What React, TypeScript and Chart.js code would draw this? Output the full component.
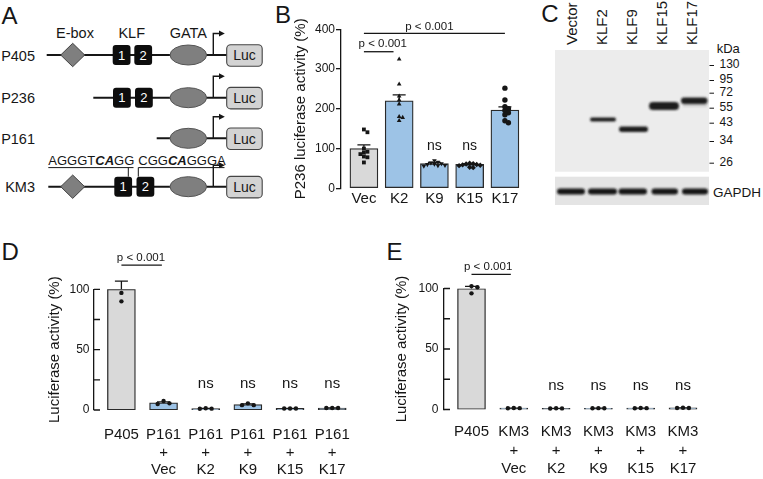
import React, { useEffect, useRef } from 'react';
import { Chart, registerables } from 'chart.js';
Chart.register(...registerables);

const FONT = "'Liberation Sans', Arial, Helvetica, sans-serif";
const INK = '#161616';
const GRAY = '#d9d9d9';
const BLUE = '#9dc3e6';

// ---------- Panel B data ----------
const bLabels = ['Vec', 'K2', 'K9', 'K15', 'K17'];
const bMeans = [100, 220, 62, 60, 197];
const bSem = [9, 15, 3, 2, 8];
const bVec = [148, 141, 100, 92, 90, 86, 80, 78, 65];
const bK2 = [325, 262, 232, 222, 212, 180, 178, 170];
const bK9 = [70, 66, 64, 62, 61, 60, 58, 57, 56];
const bK15 = [63, 62, 61, 60, 59, 58, 57, 53, 52];
const bK17 = [252, 222, 205, 200, 196, 190, 185, 170, 165];
const bTicks = [0, 100, 200, 300, 400];

// ---------- Panel D data ----------
const dLabels = [['P405'], ['P161', '+', 'Vec'], ['P161', '+', 'K2'], ['P161', '+', 'K9'], ['P161', '+', 'K15'], ['P161', '+', 'K17']];
const dMeans = [100, 6, 1.2, 4.5, 1.3, 1.6];
const dSem = [6.8, 0.8, 0.2, 0.5, 0.1, 0.1];
const dP405 = [113, 97, 90];
const dVec = [7.5, 5, 5.5];
const dK2 = [1.5, 1, 1.1];
const dK9 = [5.5, 4, 4];
const dK15 = [1.3, 1.3, 1.3];
const dK17 = [1.6, 1.6, 1.7];

// ---------- Panel E data ----------
const eLabels = [['P405'], ['KM3', '+', 'Vec'], ['KM3', '+', 'K2'], ['KM3', '+', 'K9'], ['KM3', '+', 'K15'], ['KM3', '+', 'K17']];
const eMeans = [100, 1.1, 0.9, 1.0, 1.1, 1.3];
const eSem = [1.8, 0.1, 0.1, 0.1, 0.1, 0.1];
const eP405 = [102, 101, 96];
const eVec = [1.2, 1.1, 1.0];
const eK2 = [0.9, 0.8, 1.0];
const eK9 = [1.0, 1.0, 1.1];
const eK15 = [1.1, 1.0, 1.2];
const eK17 = [1.3, 1.2, 1.4];
const pctTicks = [0, 25, 50, 75, 100];

// ---------- Panel C (blot) ----------
const lanes = ['Vector', 'KLF2', 'KLF9', 'KLF15', 'KLF17'];
const markers = ['130', '95', '72', '55', '43', '34', '26'];

function swarm(values: number[], thr: number, step: number): number[] {
  const order = values.map((_, i) => i).sort((a, b) => values[b] - values[a]);
  const placed: { v: number; x: number }[] = [];
  const out = values.map(() => 0);
  for (const i of order) {
    const v = values[i];
    for (let k = 0; k < 40; k++) {
      const off = k === 0 ? 0 : (k % 2 ? 1 : -1) * Math.ceil(k / 2) * step;
      if (!placed.some((p) => Math.abs(p.v - v) < thr && Math.abs(p.x - off) < step * 0.95)) {
        out[i] = off;
        placed.push({ v, x: off });
        break;
      }
    }
  }
  return out;
}

interface Sig { x0: number; x1: number; y: number; text: string; dx: number; gap: number }
interface Spec {
  labels: (string | string[])[];
  means: number[]; sem: number[]; points: number[][]; colors: string[];
  styles: string[]; rots: number[]; radius: number;
  ticks: number[]; labelEvery: number; yTitle: string;
  xMin: number; xMax: number; spacing: number;
  canvasW: number; yAxisW: number; padTop: number; xAxisH: number;
  titlePad: number; tickPad: number; outerTicks: boolean;
  xTickPad: number; xLineHeight: number; xFont: number;
  sigs: Sig[]; ns: number[]; nsY: number; nsFont: number; sigFont: number;
  thr: number; step: number; capW: number;
}

function makeOverlay(s: Spec) {
  return {
    id: 'overlay',
    afterDatasetsDraw(chart: any) {
      const { ctx, chartArea } = chart;
      const xs = chart.scales.x;
      const ys = chart.scales.y;
      ctx.save();
      ctx.strokeStyle = INK;
      ctx.lineWidth = 1.3;
      s.means.forEach((m, i) => {
        const x = xs.getPixelForValue(i);
        const y0 = ys.getPixelForValue(m);
        const y1 = ys.getPixelForValue(m + s.sem[i]);
        ctx.beginPath();
        ctx.moveTo(x, y0);
        ctx.lineTo(x, y1);
        ctx.moveTo(x - s.capW / 2, y1);
        ctx.lineTo(x + s.capW / 2, y1);
        ctx.stroke();
      });
      if (!s.outerTicks) {
        ctx.beginPath();
        ys.ticks.forEach((t: any) => {
          const y = ys.getPixelForValue(t.value);
          ctx.moveTo(chartArea.left, y);
          ctx.lineTo(chartArea.left + 6, y);
        });
        ctx.stroke();
      }
      ctx.fillStyle = INK;
      ctx.textAlign = 'center';
      ctx.textBaseline = 'alphabetic';
      ctx.font = `${s.sigFont}px ${FONT}`;
      s.sigs.forEach((g) => {
        const xa = xs.getPixelForValue(g.x0);
        const xb = xs.getPixelForValue(g.x1);
        const y = ys.getPixelForValue(g.y);
        ctx.beginPath();
        ctx.moveTo(xa, y);
        ctx.lineTo(xb, y);
        ctx.stroke();
        ctx.fillText(g.text, (xa + xb) / 2 + g.dx, y - g.gap);
      });
      ctx.font = `${s.nsFont}px ${FONT}`;
      s.ns.forEach((i) => ctx.fillText('ns', xs.getPixelForValue(i), ys.getPixelForValue(s.nsY)));
      ctx.restore();
    },
  };
}

function makeChart(canvas: HTMLCanvasElement, s: Spec) {
  const datasets: any[] = [
    {
      type: 'bar',
      data: s.means.map((m, i) => ({ x: i, y: m })),
      backgroundColor: s.colors,
      borderColor: '#2a2a2a',
      borderWidth: 1.3,
      borderSkipped: false,
      barThickness: 28,
      order: 3,
    },
  ];
  s.points.forEach((vals, i) => {
    const offs = swarm(vals, s.thr, s.step);
    datasets.push({
      type: 'scatter',
      data: vals.map((v, k) => ({ x: i + offs[k], y: v })),
      pointStyle: s.styles[i],
      pointRotation: s.rots[i],
      pointRadius: s.radius,
      backgroundColor: INK,
      borderColor: INK,
      borderWidth: 0,
      clip: false,
      order: 1,
    });
  });
  const padRight = s.canvasW - s.yAxisW - (s.xMax - s.xMin) * s.spacing;
  return new Chart(canvas, {
    type: 'bar',
    data: { datasets },
    plugins: [makeOverlay(s)],
    options: {
      responsive: false,
      animation: false,
      events: [],
      layout: { padding: { top: s.padTop, right: padRight, left: 0, bottom: 0 } },
      plugins: { legend: { display: false }, tooltip: { enabled: false } },
      scales: {
        x: {
          type: 'linear',
          min: s.xMin,
          max: s.xMax,
          offset: false,
          afterBuildTicks: (sc: any) => {
            sc.ticks = s.labels.map((_, i) => ({ value: i }));
          },
          afterFit: (sc: any) => {
            sc.height = s.xAxisH;
          },
          grid: { display: false, drawTicks: false },
          border: { display: false },
          ticks: {
            autoSkip: false,
            maxRotation: 0,
            padding: s.xTickPad,
            color: INK,
            font: { size: s.xFont, lineHeight: s.xLineHeight },
            callback: (v: any) => s.labels[v as number],
          },
        },
        y: {
          type: 'linear',
          min: s.ticks[0],
          max: s.ticks[s.ticks.length - 1],
          afterBuildTicks: (sc: any) => {
            sc.ticks = s.ticks.map((v) => ({ value: v }));
          },
          afterFit: (sc: any) => {
            sc.width = s.yAxisW;
          },
          grid: {
            display: s.outerTicks,
            drawOnChartArea: false,
            drawTicks: s.outerTicks,
            tickLength: 5,
            color: INK,
            lineWidth: 1.3,
          },
          border: { display: true, color: INK, width: 1.3 },
          ticks: {
            autoSkip: false,
            padding: s.tickPad,
            color: INK,
            font: { size: 12 },
            callback: (v: any) => ((v as number) % s.labelEvery === 0 ? String(v) : ''),
          },
          title: {
            display: true,
            text: s.yTitle,
            color: INK,
            font: { size: 15, lineHeight: 1.2 },
            padding: { top: s.titlePad, bottom: 0 },
          },
        },
      },
    } as any,
  });
}

const specB: Spec = {
  labels: bLabels, means: bMeans, sem: bSem,
  points: [bVec, bK2, bK9, bK15, bK17],
  colors: [GRAY, BLUE, BLUE, BLUE, BLUE],
  styles: ['rect', 'triangle', 'triangle', 'rectRot', 'circle'],
  rots: [0, 0, 180, 0, 0], radius: 2.7,
  ticks: bTicks, labelEvery: 100, yTitle: 'P236 luciferase activity (%)',
  xMin: -0.65, xMax: 4.55, spacing: 35.25,
  canvasW: 245, yAxisW: 56, padTop: 29.3, xAxisH: 26.7,
  titlePad: 7, tickPad: 1, outerTicks: true,
  xTickPad: 1.7, xLineHeight: 1.2, xFont: 15,
  sigs: [
    { x0: 0, x1: 4, y: 390, text: 'p < 0.001', dx: -5, gap: 3.5 },
    { x0: 0, x1: 0.84, y: 343.6, text: 'p < 0.001', dx: 4, gap: 5 },
  ],
  ns: [2, 3], nsY: 96, nsFont: 14, sigFont: 11.5,
  thr: 9, step: 0.1, capW: 13,
};

const specD: Spec = {
  labels: dLabels, means: dMeans, sem: dSem,
  points: [dP405, dVec, dK2, dK9, dK15, dK17],
  colors: [GRAY, BLUE, BLUE, BLUE, BLUE, BLUE],
  styles: ['circle', 'circle', 'circle', 'circle', 'circle', 'circle'],
  rots: [0, 0, 0, 0, 0, 0], radius: 2.2,
  ticks: pctTicks, labelEvery: 50, yTitle: 'Luciferase activity (%)',
  xMin: -0.65, xMax: 5.5, spacing: 42.16,
  canvasW: 355, yAxisW: 64, padTop: 49.3, xAxisH: 69,
  titlePad: 16, tickPad: 4.5, outerTicks: false,
  xTickPad: 16.2, xLineHeight: 1.167, xFont: 15,
  sigs: [{ x0: 0, x1: 0.96, y: 120, text: 'p < 0.001', dx: -0.7, gap: 4.5 }],
  ns: [2, 3, 4, 5], nsY: 18.2, nsFont: 15, sigFont: 11.5,
  thr: 3.5, step: 0.14, capW: 13,
};

const specE: Spec = {
  labels: eLabels, means: eMeans, sem: eSem,
  points: [eP405, eVec, eK2, eK9, eK15, eK17],
  colors: [GRAY, BLUE, BLUE, BLUE, BLUE, BLUE],
  styles: ['circle', 'circle', 'circle', 'circle', 'circle', 'circle'],
  rots: [0, 0, 0, 0, 0, 0], radius: 2.2,
  ticks: pctTicks, labelEvery: 50, yTitle: 'Luciferase activity (%)',
  xMin: -0.65, xMax: 5.5, spacing: 42.3,
  canvasW: 378, yAxisW: 59, padTop: 48.5, xAxisH: 69.5,
  titlePad: 7.5, tickPad: 5.5, outerTicks: false,
  xTickPad: 12.8, xLineHeight: 1.25, xFont: 15,
  sigs: [{ x0: 0, x1: 0.93, y: 111.7, text: 'p < 0.001', dx: -3, gap: 4 }],
  ns: [2, 3, 4, 5], nsY: 16, nsFont: 15, sigFont: 11.5,
  thr: 3.5, step: 0.14, capW: 13,
};

// ---------- schematic (panel A) ----------
const rowsA = [
  { label: 'P405', y: 55, start: 46.7, ebox: true, klf: [112.7, 134.3] },
  { label: 'P236', y: 97.7, start: 93.3, ebox: false, klf: [113, 135] },
  { label: 'P161', y: 138.3, start: 156.7, ebox: false, klf: [] as number[] },
  { label: 'KM3', y: 186.7, start: 48.3, ebox: true, klf: [114.3, 136.5] },
];

function PanelA() {
  return (
    <g>
      <text x={1.5} y={23.5} fontSize={24}>A</text>
      <text x={75} y={38.3} fontSize={14.5} textAnchor="middle">E-box</text>
      <text x={131.7} y={38.3} fontSize={14.5} textAnchor="middle">KLF</text>
      <text x={188.3} y={38.3} fontSize={14.5} textAnchor="middle">GATA</text>
      {rowsA.map((r) => (
        <g key={r.label}>
          <text x={35} y={r.y + 5.5} fontSize={14.5} textAnchor="end">{r.label}</text>
          <line x1={r.start} y1={r.y} x2={227} y2={r.y} stroke={INK} strokeWidth={2} />
          {r.ebox && (
            <polygon
              points={`${60.7},${r.y} ${72.7},${r.y - 11.7} ${84.7},${r.y} ${72.7},${r.y + 11.7}`}
              fill="#7f7f7f" stroke="#444" strokeWidth={1}
            />
          )}
          {r.klf.map((bx, k) => (
            <g key={k}>
              <rect x={bx} y={r.y - 10} width={17.8} height={20} rx={3} fill="#0d0d0d" />
              <text x={bx + 8.9} y={r.y + 4.7} fontSize={13} fill="#fff" textAnchor="middle">{k + 1}</text>
            </g>
          ))}
          <ellipse cx={188.3} cy={r.y} rx={18.3} ry={10} fill="#7f7f7f" stroke="#555" strokeWidth={1} />
          <polyline points={`213.3,${r.y} 213.3,${r.y - 21.5} 220,${r.y - 21.5}`} fill="none" stroke={INK} strokeWidth={1.4} />
          <polygon points={`219,${r.y - 24.5} 224.8,${r.y - 21.5} 219,${r.y - 18.5}`} fill={INK} />
          <rect x={226.7} y={r.y - 10.3} width={35.5} height={21.5} rx={4} fill="#d3d3d3" stroke="#444" strokeWidth={1.1} />
          <text x={244.5} y={r.y + 5.3} fontSize={14} textAnchor="middle">Luc</text>
        </g>
      ))}
      <text x={48.3} y={165.3} fontSize={13}>
        AGGGT<tspan fontWeight="bold" fontStyle="italic">CA</tspan>GG
      </text>
      <text x={138.3} y={165.3} fontSize={13}>
        CGG<tspan fontWeight="bold" fontStyle="italic">CA</tspan>GGGA
      </text>
      <line x1={48.3} y1={167.6} x2={133.5} y2={167.6} stroke={INK} strokeWidth={1} />
      <line x1={138.3} y1={167.6} x2={224.5} y2={167.6} stroke={INK} strokeWidth={1} />
      <line x1={128.3} y1={167.6} x2={128.3} y2={176.7} stroke={INK} strokeWidth={1} />
      <line x1={138.3} y1={167.6} x2={138.3} y2={176.7} stroke={INK} strokeWidth={1} />
    </g>
  );
}

// ---------- western blot (panel C) ----------
const laneX = [571.7, 601.7, 631.7, 661.7, 691.7];
const markerY = [64, 79, 91.7, 106.7, 121.7, 140, 161.7];
const bands = [
  { x: 590, y: 117.4, w: 26, h: 4 },
  { x: 619, y: 126.6, w: 29, h: 5.4 },
  { x: 649, y: 102, w: 30, h: 8 },
  { x: 681, y: 97.6, w: 26.5, h: 6.4 },
];
const gapdh = [557, 588, 618.5, 651.5, 682];
const gapdhW = [28, 29, 28.5, 26.5, 26];

function PanelC() {
  return (
    <g>
      <defs>
        <filter id="blur" x="-20%" y="-80%" width="140%" height="260%">
          <feGaussianBlur stdDeviation="1" />
        </filter>
      </defs>
      <text x={541.3} y={22.3} fontSize={24}>C</text>
      {lanes.map((l, i) => (
        <text key={l} transform={`translate(${laneX[i] + 5.4},45) rotate(-90)`} fontSize={15}>{l}</text>
      ))}
      <rect x={555} y={50} width={154} height={121.7} fill="#ececec" />
      <rect x={555} y={176.7} width={154} height={28.3} fill="#e4e4e4" />
      <rect x={683} y={103} width={24} height={4} fill="#cfcfcf" filter="url(#blur)" />
      {bands.map((b, i) => (
        <rect key={i} x={b.x} y={b.y} width={b.w} height={b.h} rx={b.h / 2} fill="#1e1e1e" filter="url(#blur)" />
      ))}
      {gapdh.map((x, i) => (
        <rect key={i} x={x} y={188.5} width={gapdhW[i]} height={6} rx={3} fill="#151515" filter="url(#blur)" />
      ))}
      <text x={716.7} y={53.3} fontSize={13}>kDa</text>
      {markers.map((m, i) => (
        <g key={m}>
          <line x1={709.5} y1={markerY[i] + 1.5} x2={714} y2={markerY[i] + 1.5} stroke={INK} strokeWidth={1} />
          <text x={719.5} y={markerY[i] + 4.3} fontSize={12}>{m}</text>
        </g>
      ))}
      <text x={713} y={196.5} fontSize={13.5}>GAPDH</text>
    </g>
  );
}

export default function App() {
  const bRef = useRef<HTMLCanvasElement>(null);
  const dRef = useRef<HTMLCanvasElement>(null);
  const eRef = useRef<HTMLCanvasElement>(null);

  useEffect(() => {
    Chart.defaults.font.family = FONT;
    Chart.defaults.color = INK;
    const charts = [
      makeChart(bRef.current as HTMLCanvasElement, specB),
      makeChart(dRef.current as HTMLCanvasElement, specD),
      makeChart(eRef.current as HTMLCanvasElement, specE),
    ];
    return () => charts.forEach((c) => c.destroy());
  }, []);

  return (
    <div style={{ position: 'absolute', left: 0, top: 0, width: 763, height: 479, background: '#fff', overflow: 'hidden', fontFamily: FONT }}>
      <svg width={763} height={479} style={{ position: 'absolute', left: 0, top: 0 }} fontFamily={FONT} fill={INK}>
        <PanelA />
        <PanelC />
        <text x={275} y={23.3} fontSize={24}>B</text>
        <text x={1.5} y={260} fontSize={24}>D</text>
        <text x={386.5} y={260} fontSize={24}>E</text>
      </svg>
      <canvas ref={bRef} width={245} height={215} style={{ position: 'absolute', left: 285, top: 0 }} />
      <canvas ref={dRef} width={355} height={239} style={{ position: 'absolute', left: 30, top: 240 }} />
      <canvas ref={eRef} width={378} height={239} style={{ position: 'absolute', left: 385, top: 240 }} />
    </div>
  );
}
